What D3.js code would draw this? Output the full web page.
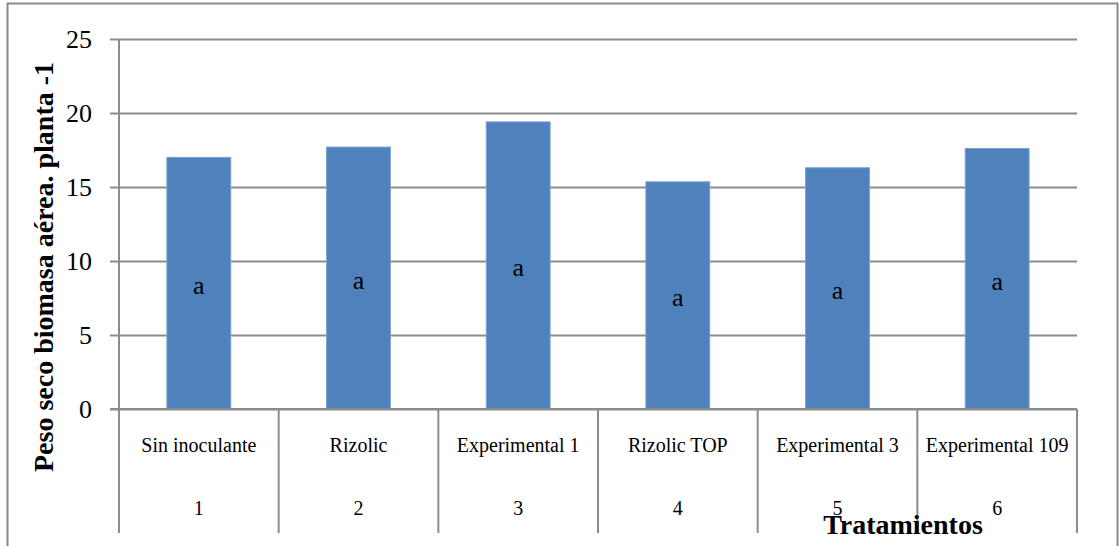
<!DOCTYPE html>
<html>
<head>
<meta charset="utf-8">
<script src="https://cdn.jsdelivr.net/npm/d3@7"></script>
<style>
  html, body { margin: 0; padding: 0; background: #fff; }
  svg { display: block; }
  text { font-family: "Liberation Serif", "Times New Roman", serif; fill: #000; }
</style>
</head>
<body>
<svg id="chart" width="1119" height="546"></svg>
<script>
const categories = ["Sin inoculante", "Rizolic", "Experimental 1", "Rizolic TOP", "Experimental 3", "Experimental 109"];
const treatmentNumbers = ["1", "2", "3", "4", "5", "6"];
const values = [17.0, 17.7, 19.4, 15.35, 16.3, 17.6];
const letters = ["a", "a", "a", "a", "a", "a"];
const yTicks = [0, 5, 10, 15, 20, 25];
const yTitle = "Peso seco biomasa aérea. planta -1";
const xTitle = "Tratamientos";

const svg = d3.select("#chart");
const plotLeft = 119, plotRight = 1077, plotTop = 39, plotBottom = 409;
const sepBottom = 533;

// outer frame
svg.append("rect")
  .attr("x", 7.5).attr("y", 3.5)
  .attr("width", 1110).attr("height", 600)
  .attr("fill", "none").attr("stroke", "#8a8a8a").attr("stroke-width", 2);

const x = d3.scaleBand().domain(categories).range([plotLeft, plotRight]).paddingInner(0.6).paddingOuter(0.3);
const xCell = d3.scaleBand().domain(categories).range([plotLeft, plotRight]).padding(0);
const y = d3.scaleLinear().domain([0, 25]).range([plotBottom, plotTop]);

// gridlines + y axis
const yAxis = d3.axisLeft(y).tickValues(yTicks).tickSize(-(plotRight - plotLeft)).tickPadding(0).tickFormat(d3.format("d"));
const gy = svg.append("g").attr("transform", `translate(${plotLeft},0)`).call(yAxis);
gy.select(".domain").remove();
gy.selectAll(".tick line")
  .attr("x1", -9)
  .attr("stroke", "#8c8c8c").attr("stroke-width", 2);
gy.selectAll(".tick text")
  .attr("x", -27)
  .attr("dy", "0.34em")
  .style("font-size", "26px")
  .style("font-family", "Liberation Serif, serif")
  .attr("fill", "#000");

// bars
svg.append("g").selectAll("rect").data(values).join("rect")
  .attr("x", (d, i) => x(categories[i]))
  .attr("y", d => y(d))
  .attr("width", x.bandwidth())
  .attr("height", d => y(0) - y(d))
  .attr("fill", "#4F81BD")
  .attr("stroke", "#7ba0d4").attr("stroke-width", 1);

// letters inside bars
svg.append("g").selectAll("text").data(values).join("text")
  .attr("x", (d, i) => x(categories[i]) + x.bandwidth() / 2)
  .attr("y", d => y(d / 2) + 11)
  .attr("text-anchor", "middle")
  .style("font-size", "26px")
  .text((d, i) => letters[i]);

// y axis line (extends down through category rows)
svg.append("line")
  .attr("x1", plotLeft).attr("x2", plotLeft)
  .attr("y1", plotTop).attr("y2", sepBottom)
  .attr("stroke", "#8c8c8c").attr("stroke-width", 2);

// x axis line
svg.append("line")
  .attr("x1", plotLeft - 9).attr("x2", plotRight)
  .attr("y1", plotBottom).attr("y2", plotBottom)
  .attr("stroke", "#8c8c8c").attr("stroke-width", 2);

// category separators
const seps = categories.map(c => xCell(c) + xCell.bandwidth());
svg.append("g").selectAll("line").data(seps).join("line")
  .attr("x1", d => d).attr("x2", d => d)
  .attr("y1", plotBottom).attr("y2", sepBottom)
  .attr("stroke", "#8c8c8c").attr("stroke-width", 2);

// category labels
svg.append("g").selectAll("text").data(categories).join("text")
  .attr("x", d => xCell(d) + xCell.bandwidth() / 2)
  .attr("y", 452)
  .attr("text-anchor", "middle")
  .style("font-size", "20px")
  .text(d => d);

// treatment numbers
svg.append("g").selectAll("text").data(treatmentNumbers).join("text")
  .attr("x", (d, i) => xCell(categories[i]) + xCell.bandwidth() / 2)
  .attr("y", 515)
  .attr("text-anchor", "middle")
  .style("font-size", "20px")
  .text(d => d);

// x title
svg.append("text")
  .attr("x", 903).attr("y", 534)
  .attr("text-anchor", "middle")
  .style("font-size", "28px").style("font-weight", "bold")
  .text(xTitle);

// y title
svg.append("text")
  .attr("transform", "translate(53,267) rotate(-90)")
  .attr("text-anchor", "middle")
  .style("font-size", "28px").style("font-weight", "bold")
  .text(yTitle);
</script>
</body>
</html>
